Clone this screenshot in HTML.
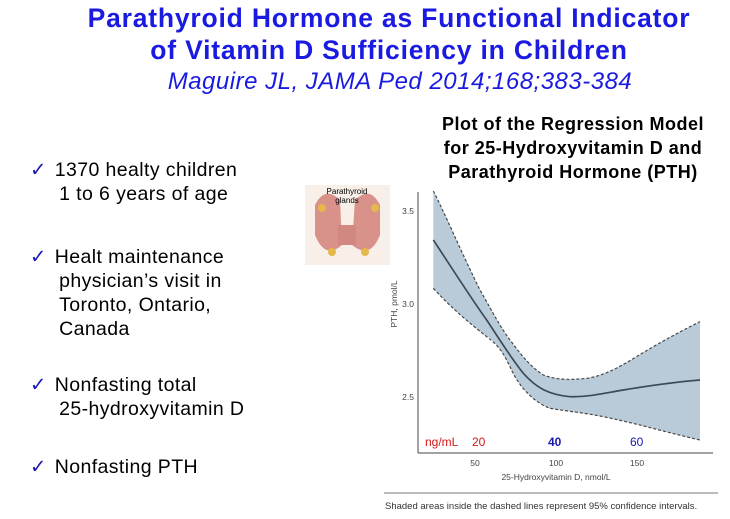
<!DOCTYPE html>
<html><head><meta charset="utf-8"><style>
body{margin:0;width:730px;height:519px;background:#fff;position:relative;overflow:hidden;font-family:"Liberation Sans",sans-serif}
.t{position:absolute;left:0;width:778px;text-align:center;color:#1a1ae0;font-weight:bold;font-size:26.5px;letter-spacing:0.8px;white-space:nowrap}
.b{position:absolute;left:30px;font-size:19.5px;letter-spacing:0.4px;color:#000;line-height:24px;white-space:nowrap}
.b span{color:#1a1ab0;margin-right:8px}
.r{position:absolute;left:410px;width:326px;text-align:center;font-weight:bold;font-size:18px;letter-spacing:0.5px;line-height:24px}
</style></head><body>
<div class="t" style="top:3px">Parathyroid Hormone as Functional Indicator</div>
<div class="t" style="top:35px">of Vitamin D Sufficiency in Children</div>
<div class="t" style="top:68px;font-weight:normal;font-style:italic;font-size:24px;letter-spacing:0.5px;width:800px">Maguire JL, JAMA Ped 2014;168;383-384</div>
<div class="r" style="top:112px">Plot of the Regression Model<br>for 25-Hydroxyvitamin D and<br>Parathyroid Hormone (PTH)</div>
<div class="b" style="top:158px"><span>✓</span>1370 healty children<br>&nbsp;&nbsp;&nbsp;&nbsp;&nbsp;1 to 6 years of age</div>
<div class="b" style="top:245px"><span>✓</span>Healt maintenance<br>&nbsp;&nbsp;&nbsp;&nbsp;&nbsp;physician’s visit in<br>&nbsp;&nbsp;&nbsp;&nbsp;&nbsp;Toronto, Ontario,<br>&nbsp;&nbsp;&nbsp;&nbsp;&nbsp;Canada</div>
<div class="b" style="top:373px"><span>✓</span>Nonfasting total<br>&nbsp;&nbsp;&nbsp;&nbsp;&nbsp;25-hydroxyvitamin D</div>
<div class="b" style="top:455px"><span>✓</span>Nonfasting PTH</div>
<svg width="730" height="519" style="position:absolute;left:0;top:0">
<g>
<rect x="305" y="185" width="85" height="80" fill="#f7efe8"/>
<path d="M315 205 Q325 185 340 200 L342 245 Q325 260 315 235Z M380 205 Q370 185 355 200 L352 245 Q370 260 380 235Z" fill="#d9928a"/>
<rect x="338" y="225" width="18" height="20" fill="#d08880"/>
<circle cx="322" cy="208" r="4" fill="#e6b84a"/><circle cx="375" cy="208" r="4" fill="#e6b84a"/>
<circle cx="332" cy="252" r="4" fill="#e6b84a"/><circle cx="365" cy="252" r="4" fill="#e6b84a"/>
<text x="347" y="194" font-size="8" text-anchor="middle" font-family="Liberation Sans">Parathyroid</text>
<text x="347" y="203" font-size="8" text-anchor="middle" font-family="Liberation Sans">glands</text>
</g>
<g transform="translate(370,180) scale(0.33333)">
<path d="M190,33 C220,90 280,230 330,330 C370,400 390,440 420,480 C450,520 480,560 520,585 C560,600 600,600 650,595 C720,585 780,540 850,500 C920,460 960,440 990,425 L990,780 C900,760 820,735 700,710 C640,698 600,695 540,685 C500,670 450,630 420,560 C390,500 360,470 350,470 C300,430 250,390 190,325Z" fill="#b9cbd8" stroke="none"/>
<path d="M190,33 C220,90 280,230 330,330 C370,400 390,440 420,480 C450,520 480,560 520,585 C560,600 600,600 650,595 C720,585 780,540 850,500 C920,460 960,440 990,425" fill="none" stroke="#444" stroke-width="3.5" stroke-dasharray="9,6"/>
<path d="M190,325 C250,390 300,430 350,470 C390,500 400,520 420,560 C450,630 500,670 540,685 C600,695 640,698 700,710 C820,735 900,760 990,780" fill="none" stroke="#444" stroke-width="3.5" stroke-dasharray="9,6"/>
<path d="M190,180 C230,240 300,350 350,420 C390,480 420,530 460,580 C500,625 540,645 600,650 C650,652 700,640 760,630 C850,615 930,605 990,600" fill="none" stroke="#3d4a55" stroke-width="5"/>
</g>
<g font-family="Liberation Sans" font-size="8.5" fill="#444">
<line x1="418" y1="192" x2="418" y2="453" stroke="#444" stroke-width="1"/>
<line x1="418" y1="453" x2="713" y2="453" stroke="#444" stroke-width="1"/>
<text x="414" y="214" text-anchor="end">3.5</text><text x="414" y="307" text-anchor="end">3.0</text><text x="414" y="400" text-anchor="end">2.5</text>
<text x="475" y="466" text-anchor="middle">50</text><text x="556" y="466" text-anchor="middle">100</text><text x="637" y="466" text-anchor="middle">150</text>
<text x="556" y="480" text-anchor="middle">25-Hydroxyvitamin D, nmol/L</text>
<text transform="translate(397,304) rotate(-90)" text-anchor="middle">PTH, pmol/L</text>
</g>
<text x="425" y="446" font-size="12" fill="#d41818" font-family="Liberation Sans">ng/mL</text>
<text x="472" y="446" font-size="12" fill="#d41818" font-family="Liberation Sans">20</text>
<text x="548" y="446" font-size="12" fill="#1818b0" font-weight="bold" font-family="Liberation Sans">40</text>
<text x="630" y="446" font-size="12" fill="#1818b0" font-family="Liberation Sans">60</text>
<line x1="384" y1="493" x2="718" y2="493" stroke="#777" stroke-width="1"/>
<text x="385" y="509" font-size="9.5" fill="#333" font-family="Liberation Sans">Shaded areas inside the dashed lines represent 95% confidence intervals.</text>
</svg>
</body></html>
